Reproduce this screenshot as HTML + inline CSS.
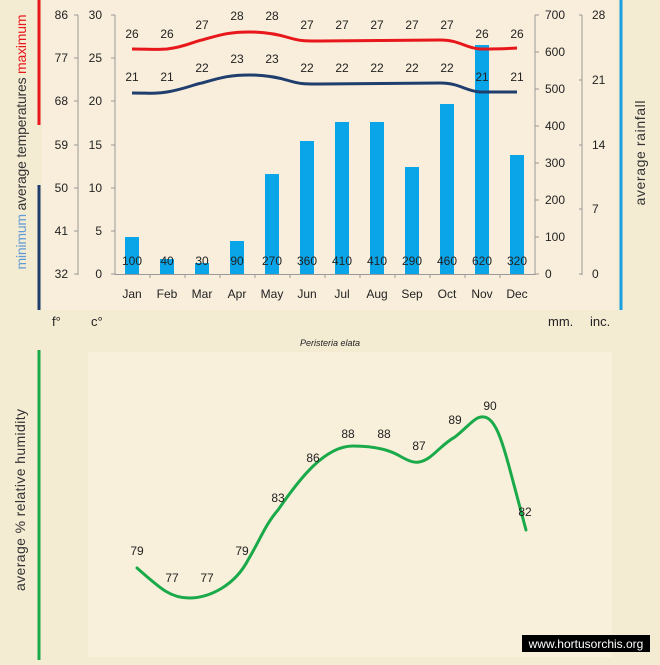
<!DOCTYPE html>
<html><head><style>
body{margin:0;width:660px;height:660px;background:#f4ebd3;overflow:hidden;font-family:"Liberation Sans",sans-serif}
</style></head><body>
<svg width="660" height="660" xmlns="http://www.w3.org/2000/svg" font-family="Liberation Sans, sans-serif">
<rect width="660" height="660" fill="#f4ebd3"/>
<rect x="42" y="0" width="575" height="310" fill="#f8eedb"/>
<rect x="88" y="352" width="524" height="305" fill="#f9f0dc"/>
<line x1="39" y1="0" x2="39" y2="125" stroke="#e8171b" stroke-width="3"/>
<line x1="39" y1="185" x2="39" y2="310" stroke="#1f3e6e" stroke-width="3"/>
<line x1="621" y1="0" x2="621" y2="310" stroke="#1aa0e0" stroke-width="3"/>
<line x1="39" y1="350" x2="39" y2="660" stroke="#1aaa4a" stroke-width="3"/>
<g font-size="14" fill="#333">
<text transform="translate(26,142) rotate(-90)" text-anchor="middle" textLength="255" lengthAdjust="spacing"><tspan fill="#5f9bd5">minimum</tspan>   average   temperatures   <tspan fill="#e8171b">maximum</tspan></text>
<text transform="translate(645,153) rotate(-90)" text-anchor="middle" textLength="105" lengthAdjust="spacing">average  rainfall</text>
<text transform="translate(25,500) rotate(-90)" text-anchor="middle" textLength="182" lengthAdjust="spacing">average %  relative humidity</text>
</g>
<g stroke="#999" stroke-width="1" fill="none">
<line x1="78" y1="15" x2="78" y2="275"/>
<line x1="115" y1="15" x2="115" y2="275"/>
<line x1="535" y1="15" x2="535" y2="275"/>
<line x1="582" y1="15" x2="582" y2="275"/>
<line x1="115" y1="274.5" x2="535" y2="274.5"/>
<path d="M74 15h4M74 58h4M74 101h4M74 145h4M74 188h4M74 231h4M74 274h4
M111 15h4M111 58h4M111 101h4M111 145h4M111 188h4M111 231h4M111 274h4
M535 15h4M535 52h4M535 89h4M535 126h4M535 163h4M535 200h4M535 237h4M535 274h4
M579 15h3M579 80h3M579 145h3M579 209h3M579 274h3
M150 274v4M185 274v4M220 274v4M255 274v4M290 274v4M325 274v4M360 274v4M395 274v4M430 274v4M465 274v4M500 274v4"/>
</g>
<g font-size="12" fill="#222" text-anchor="end">
<text x="68" y="19">86</text><text x="68" y="62">77</text><text x="68" y="105">68</text><text x="68" y="149">59</text><text x="68" y="192">50</text><text x="68" y="235">41</text><text x="68" y="278">32</text>
<text x="102" y="19">30</text><text x="102" y="62">25</text><text x="102" y="105">20</text><text x="102" y="149">15</text><text x="102" y="192">10</text><text x="102" y="235">5</text><text x="102" y="278">0</text>
</g>
<g font-size="12" fill="#222">
<text x="545" y="19">700</text><text x="545" y="56">600</text><text x="545" y="93">500</text><text x="545" y="130">400</text><text x="545" y="167">300</text><text x="545" y="204">200</text><text x="545" y="241">100</text><text x="545" y="278">0</text>
<text x="592" y="19">28</text><text x="592" y="84">21</text><text x="592" y="149">14</text><text x="592" y="213">7</text><text x="592" y="278">0</text>
<text x="52" y="326" font-size="13">f°</text><text x="91" y="326" font-size="13">c°</text>
<text x="548" y="326" font-size="13">mm.</text><text x="590" y="326" font-size="13">inc.</text>
</g>
<g fill="#0aa5e8">
<rect x="125" y="237" width="14" height="37"/>
<rect x="160" y="259" width="14" height="15"/>
<rect x="195" y="263" width="14" height="11"/>
<rect x="230" y="241" width="14" height="33"/>
<rect x="265" y="174" width="14" height="100"/>
<rect x="300" y="141" width="14" height="133"/>
<rect x="335" y="122" width="14" height="152"/>
<rect x="370" y="122" width="14" height="152"/>
<rect x="405" y="167" width="14" height="107"/>
<rect x="440" y="104" width="14" height="170"/>
<rect x="475" y="45" width="14" height="229"/>
<rect x="510" y="155" width="14" height="119"/>
</g>
<g font-size="12" fill="#222" text-anchor="middle">
<text x="132" y="265">100</text><text x="167" y="265">40</text><text x="202" y="265">30</text><text x="237" y="265">90</text><text x="272" y="265">270</text><text x="307" y="265">360</text><text x="342" y="265">410</text><text x="377" y="265">410</text><text x="412" y="265">290</text><text x="447" y="265">460</text><text x="482" y="265">620</text><text x="517" y="265">320</text>
<text x="132" y="298">Jan</text><text x="167" y="298">Feb</text><text x="202" y="298">Mar</text><text x="237" y="298">Apr</text><text x="272" y="298">May</text><text x="307" y="298">Jun</text><text x="342" y="298">Jul</text><text x="377" y="298">Aug</text><text x="412" y="298">Sep</text><text x="447" y="298">Oct</text><text x="482" y="298">Nov</text><text x="517" y="298">Dec</text>
</g>
<path d="M132 49C150 49 155 50 167 49C185 47 195 41 202 40C220 35 228 32 250 32C265 32 280 35 290 38C300 41 305 41 320 41C360 41 400 40 440 40C460 40 465 48 480 49C500 49 505 49 517 48" stroke="#e8171b" stroke-width="3" fill="none"/>
<path d="M132 93C150 93 155 94 167 92C185 89 195 84 202 83C220 78 228 75 250 75C265 75 280 78 290 81C300 84 305 84 320 84C360 84 400 83 440 83C460 83 465 91 480 92C500 92 505 92 517 92" stroke="#1f3e6e" stroke-width="3" fill="none"/>
<g font-size="12" fill="#222" text-anchor="middle">
<text x="132" y="38">26</text><text x="167" y="38">26</text><text x="202" y="29">27</text><text x="237" y="20">28</text><text x="272" y="20">28</text><text x="307" y="29">27</text><text x="342" y="29">27</text><text x="377" y="29">27</text><text x="412" y="29">27</text><text x="447" y="29">27</text><text x="482" y="38">26</text><text x="517" y="38">26</text>
<text x="132" y="81">21</text><text x="167" y="81">21</text><text x="202" y="72">22</text><text x="237" y="63">23</text><text x="272" y="63">23</text><text x="307" y="72">22</text><text x="342" y="72">22</text><text x="377" y="72">22</text><text x="412" y="72">22</text><text x="447" y="72">22</text><text x="482" y="81">21</text><text x="517" y="81">21</text>
</g>
<text x="330" y="346" font-size="9" font-style="italic" fill="#222" text-anchor="middle">Peristeria elata</text>
<path d="M137 568C160 588 170 598 189 598C210 598 235 585 248 560C260 540 265 525 278 510C300 478 325 446 353 446C370 446 385 448 398 455C410 462 415 463 419 462C432 460 440 445 455 437C470 425 475 416 484 417C495 418 502 440 510 470C518 500 522 515 526 530" stroke="#1aaa4a" stroke-width="3" fill="none" stroke-linecap="round"/>
<g font-size="12" fill="#222" text-anchor="middle">
<text x="137" y="555">79</text><text x="172" y="582">77</text><text x="207" y="582">77</text><text x="242" y="555">79</text><text x="278" y="502">83</text><text x="313" y="462">86</text><text x="348" y="438">88</text><text x="384" y="438">88</text><text x="419" y="450">87</text><text x="455" y="424">89</text><text x="490" y="410">90</text><text x="525" y="516">82</text>
</g>
<rect x="522" y="635" width="128" height="17" fill="#000"/>
<text x="586" y="648" font-size="12" fill="#fff" text-anchor="middle">www.hortusorchis.org</text>
</svg>
</body></html>
